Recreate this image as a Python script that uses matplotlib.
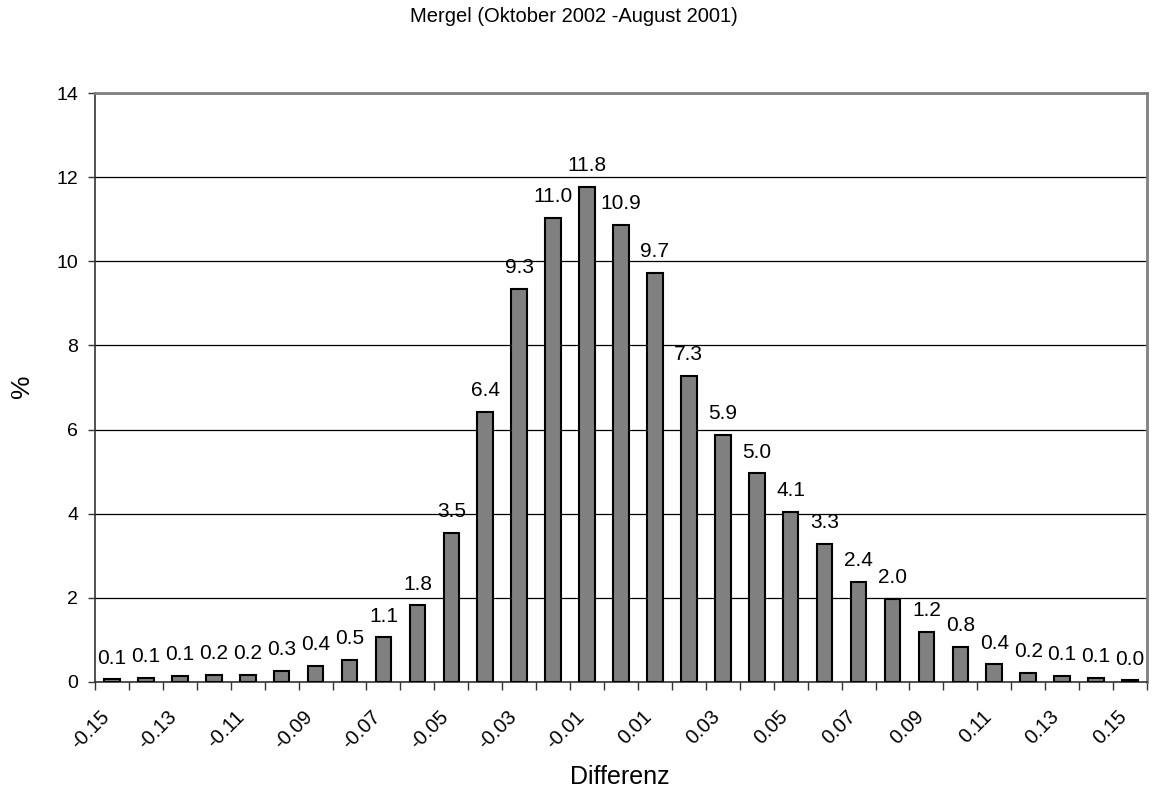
import matplotlib
matplotlib.use("Agg")
import matplotlib.pyplot as plt
import numpy as np

plt.rcParams['font.family'] = ['Liberation Sans', 'DejaVu Sans']

categories = ["-0.15", "-0.14", "-0.13", "-0.12", "-0.11", "-0.1", "-0.09", "-0.08", "-0.07", "-0.06",
              "-0.05", "-0.04", "-0.03", "-0.02", "-0.01", "0", "0.01", "0.02", "0.03", "0.04",
              "0.05", "0.06", "0.07", "0.08", "0.09", "0.1", "0.11", "0.12", "0.13", "0.14", "0.15"]
values = [0.06, 0.10, 0.14, 0.17, 0.17, 0.27, 0.38, 0.52, 1.06, 1.82,
          3.55, 6.42, 9.34, 11.04, 11.76, 10.87, 9.72, 7.27, 5.88, 4.96,
          4.05, 3.28, 2.37, 1.98, 1.20, 0.83, 0.42, 0.22, 0.14, 0.10, 0.04]
labels = ["0.1", "0.1", "0.1", "0.2", "0.2", "0.3", "0.4", "0.5", "1.1", "1.8",
          "3.5", "6.4", "9.3", "11.0", "11.8", "10.9", "9.7", "7.3", "5.9", "5.0",
          "4.1", "3.3", "2.4", "2.0", "1.2", "0.8", "0.4", "0.2", "0.1", "0.1", "0.0"]
shown_ticks = ["-0.15", "-0.13", "-0.11", "-0.09", "-0.07", "-0.05", "-0.03", "-0.01",
               "0.01", "0.03", "0.05", "0.07", "0.09", "0.11", "0.13", "0.15"]

fig = plt.figure(figsize=(11.52, 7.93), dpi=100)
ax = fig.add_axes([95/1152, 1-682/793, (1147-95)/1152, (682-93)/793])

x = np.arange(len(categories))
ax.bar(x, values, width=0.46, color='#808080', edgecolor='black', linewidth=1.5, zorder=3)

for xi, v, lab in zip(x, values, labels):
    ax.annotate(lab, (xi, v), xytext=(0, 8.5), textcoords='offset points',
                ha='center', va='bottom', fontsize=15)

ax.set_xlim(-0.5, len(categories) - 0.5)
ax.set_ylim(0, 14)
ax.set_yticks(np.arange(0, 15, 2))
ax.yaxis.grid(True, color='black', linewidth=0.9, zorder=0)
ax.set_axisbelow(True)

# tick marks at category boundaries
ax.set_xticks(np.arange(-0.5, len(categories), 1.0))
ax.set_xticklabels([])
ax.tick_params(axis='x', length=6, width=1, color='#333333', direction='out')
ax.tick_params(axis='y', length=5, width=1, color='#333333', direction='out',
               labelsize=14, pad=7)

for xi, cat in zip(x, categories):
    if cat in shown_ticks:
        ax.annotate(cat, (xi, 0), xycoords=('data', 'axes fraction'),
                    xytext=(-9, -18), textcoords='offset points',
                    ha='right', va='top', rotation=45, rotation_mode='anchor', fontsize=14.5)

for side in ['top', 'right']:
    ax.spines[side].set_color('#808080')
    ax.spines[side].set_linewidth(2)
for side in ['left', 'bottom']:
    ax.spines[side].set_color('#333333')
    ax.spines[side].set_linewidth(1.2)

fig.text(574/1152, 1-17/793, "Mergel (Oktober 2002 -August 2001)", ha='center', va='center', fontsize=14.5)
fig.text(620/1152, 1-777/793, "Differenz", ha='center', va='center', fontsize=18)
fig.text(22/1152, 1-386/793, "%", ha='center', va='center', rotation=90, fontsize=19)

fig.savefig("out.png", dpi=100)
